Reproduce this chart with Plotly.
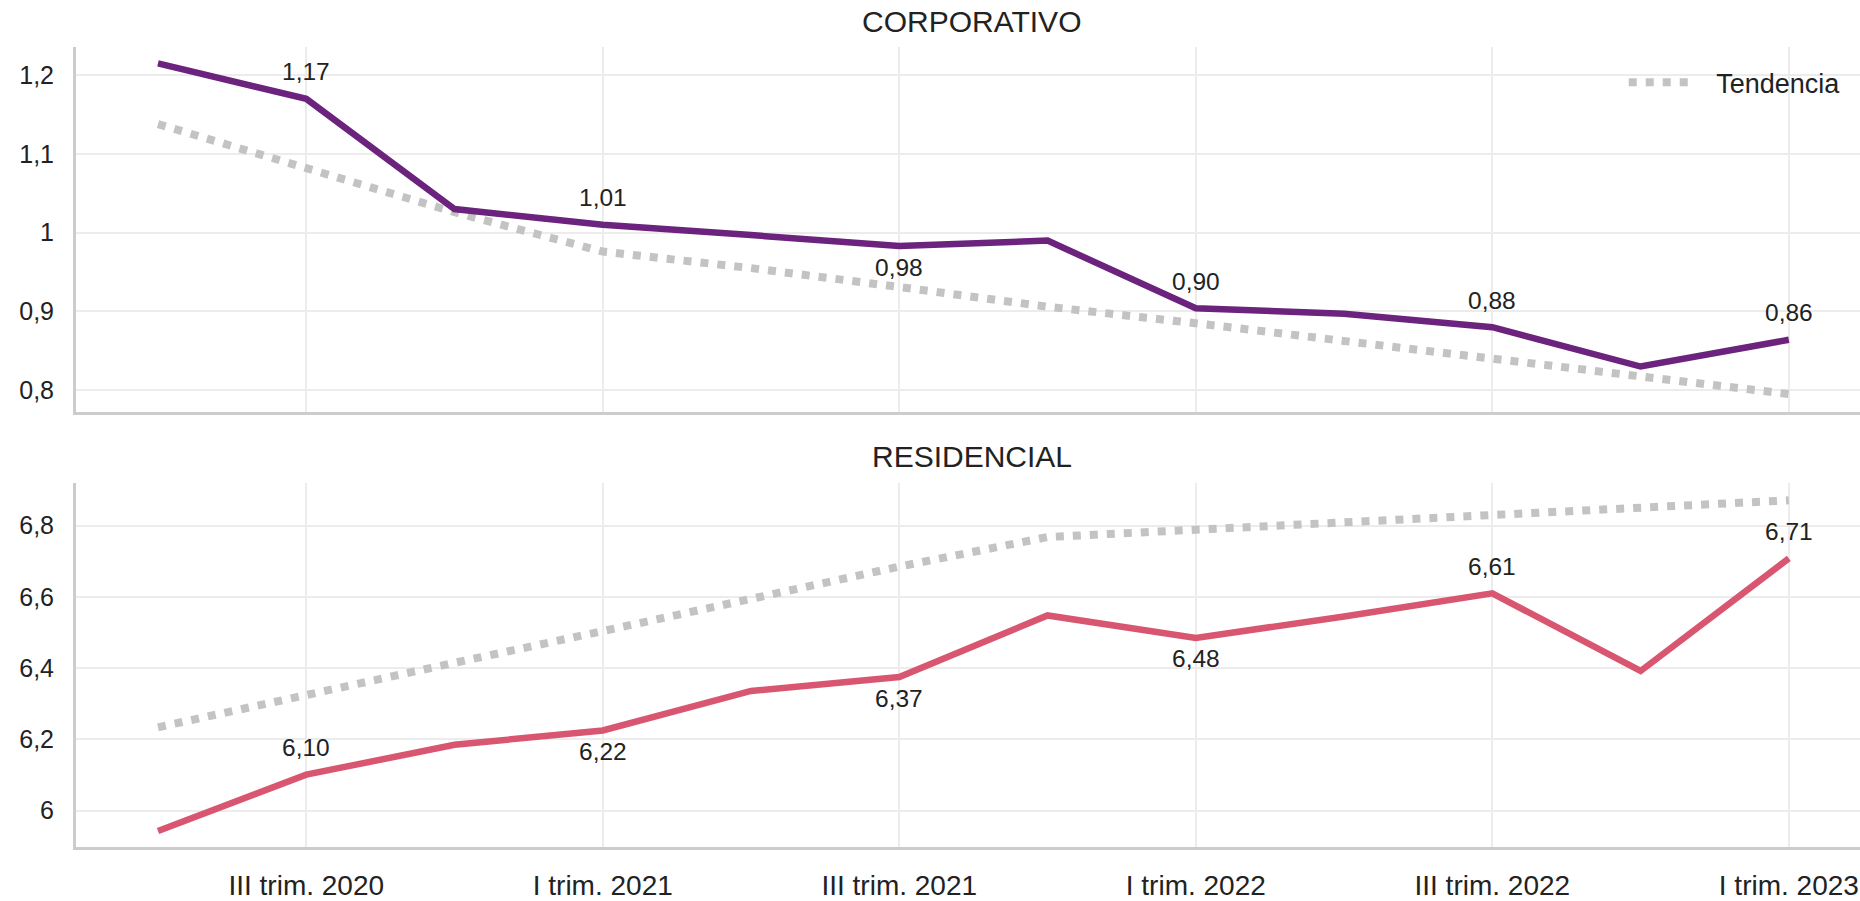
import plotly.graph_objects as go
from plotly.subplots import make_subplots

quarters = ["II trim. 2020", "III trim. 2020", "IV trim. 2020", "I trim. 2021",
            "II trim. 2021", "III trim. 2021", "IV trim. 2021", "I trim. 2022",
            "II trim. 2022", "III trim. 2022", "IV trim. 2022", "I trim. 2023"]
tick_labels = ["III trim. 2020", "I trim. 2021", "III trim. 2021",
               "I trim. 2022", "III trim. 2022", "I trim. 2023"]

corp_values = [1.215, 1.17, 1.030, 1.01, 0.997, 0.983, 0.990, 0.904, 0.897, 0.880, 0.830, 0.864]
corp_trend = [1.138, 1.083, 1.026, 0.976, 0.955, 0.931, 0.906, 0.885, 0.862, 0.839, 0.818, 0.795]
corp_labels = ["", "1,17", "", "1,01", "", "0,98", "", "0,90", "", "0,88", "", "0,86"]
corp_label_pos = ["", "above", "", "above", "", "below", "", "above", "", "above", "", "above"]

res_values = [5.943, 6.101, 6.185, 6.225, 6.336, 6.375, 6.548, 6.485, 6.545, 6.610, 6.392, 6.708]
res_trend = [6.234, 6.322, 6.415, 6.504, 6.597, 6.685, 6.768, 6.789, 6.810, 6.832, 6.850, 6.871]
res_labels = ["", "6,10", "", "6,22", "", "6,37", "", "6,48", "", "6,61", "", "6,71"]
res_label_pos = ["", "above", "", "below", "", "below", "", "below", "", "above", "", "above"]

PURPLE = "#6b237d"
PINK = "#d95670"
GREY = "#c3c3c3"
FONT = "Liberation Sans, Arial, sans-serif"
TXT = "#222222"

fig = make_subplots(rows=2, cols=1, shared_xaxes=False, vertical_spacing=0.0)

trend_dash = "8px,9px"

fig.add_trace(go.Scatter(x=quarters, y=corp_trend, mode="lines",
                         name="\u00a0\u00a0\u00a0Tendencia",
                         line=dict(color=GREY, width=8, dash=trend_dash), showlegend=True,
                         hoverinfo="skip"), row=1, col=1)
fig.add_trace(go.Scatter(x=quarters, y=corp_values, mode="lines", name="Corporativo",
                         line=dict(color=PURPLE, width=6.5), showlegend=False), row=1, col=1)
fig.add_trace(go.Scatter(x=quarters, y=res_trend, mode="lines", name="Tendencia",
                         line=dict(color=GREY, width=8, dash=trend_dash), showlegend=False,
                         hoverinfo="skip"), row=2, col=1)
fig.add_trace(go.Scatter(x=quarters, y=res_values, mode="lines", name="Residencial",
                         line=dict(color=PINK, width=6.5), showlegend=False), row=2, col=1)

annotations = []
for xs, ys, labs, poss, xr, yr in [(quarters, corp_values, corp_labels, corp_label_pos, "x", "y"),
                                   (quarters, res_values, res_labels, res_label_pos, "x2", "y2")]:
    for q, v, t, p in zip(xs, ys, labs, poss):
        if not t:
            continue
        annotations.append(dict(x=q, y=v, xref=xr, yref=yr, text=t, showarrow=False,
                                yshift=27 if p == "above" else -21,
                                font=dict(family=FONT, size=24.5, color=TXT)))

annotations.append(dict(x=0.502, y=1.0, xref="paper", yref="paper", text="CORPORATIVO",
                        showarrow=False, yanchor="middle", yshift=26,
                        font=dict(family=FONT, size=30, color=TXT)))
annotations.append(dict(x=0.502, y=0.4547, xref="paper", yref="paper", text="RESIDENCIAL",
                        showarrow=False, yanchor="middle", yshift=27,
                        font=dict(family=FONT, size=30, color=TXT)))

xrange = [-0.553, 11.48]
axis_common = dict(showline=True, linecolor="#cccccc", linewidth=3,
                   showgrid=True, gridcolor="#ececec", gridwidth=1.5,
                   zeroline=False, ticks="")

fig.update_xaxes(**axis_common, type="category", range=xrange,
                 tickvals=tick_labels, ticktext=tick_labels,
                 tickfont=dict(family=FONT, size=28, color=TXT))
fig.update_xaxes(showticklabels=False, row=1, col=1)
fig.update_xaxes(ticklabelstandoff=11, row=2, col=1)

fig.update_yaxes(**axis_common, tickfont=dict(family=FONT, size=25, color=TXT))
fig.update_yaxes(domain=[0.5441, 1.0], range=[0.7726, 1.2359],
                 tickvals=[0.8, 0.9, 1.0, 1.1, 1.2], ticktext=["0,8", "0,9", "1", "1,1", "1,2"],
                 ticklabelstandoff=14, row=1, col=1)
fig.update_yaxes(domain=[0.0, 0.4547], range=[5.898, 6.919],
                 tickvals=[6.0, 6.2, 6.4, 6.6, 6.8], ticktext=["6", "6,2", "6,4", "6,6", "6,8"],
                 ticklabelstandoff=14, row=2, col=1)
fig.update_xaxes(domain=[0, 1])

fig.update_layout(
    width=1860, height=901,
    margin=dict(l=76, r=0, t=47, b=49),
    paper_bgcolor="white", plot_bgcolor="white",
    annotations=annotations,
    legend=dict(x=0.992, y=0.986, xref="paper", yref="paper", xanchor="right", yanchor="top",
                font=dict(family=FONT, size=27, color=TXT), bgcolor="rgba(0,0,0,0)",
                itemwidth=60),
    font=dict(family=FONT, color=TXT),
)

fig.write_html("out.html", config={"displayModeBar": False},
               post_script="document.body.style.margin='0';document.body.style.overflow='hidden';")
